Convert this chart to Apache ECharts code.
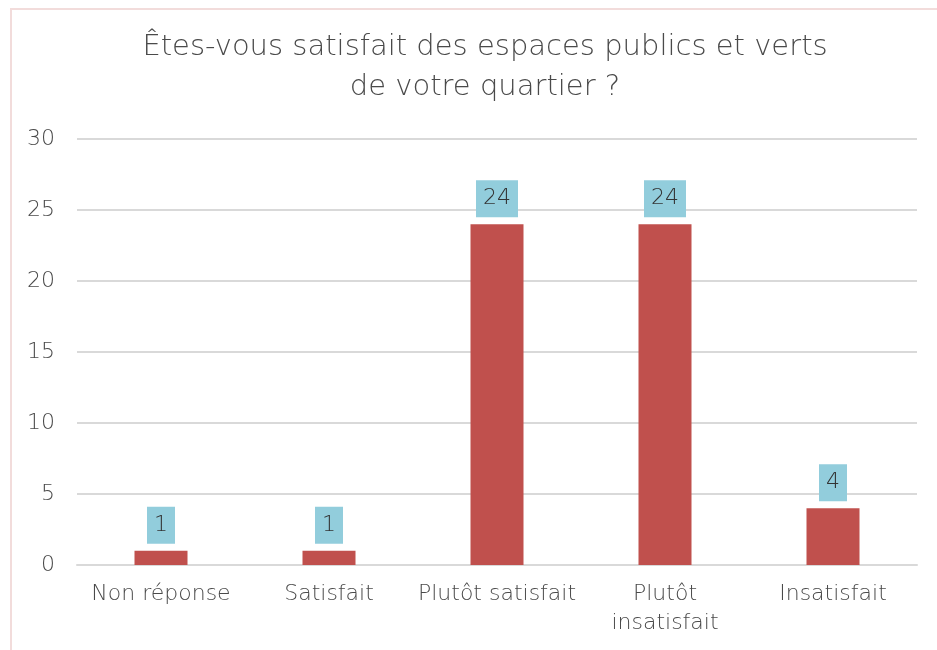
<!DOCTYPE html>
<html>
<head>
<meta charset="utf-8">
<script src="https://cdn.jsdelivr.net/npm/echarts@6/dist/echarts.min.js"></script>
<style>
  html, body { margin: 0; padding: 0; background: #fff; }
  #chart { width: 937px; height: 650px; }
</style>
</head>
<body>
<div id="chart"></div>
<script>
// data
var categories = ["Non réponse", "Satisfait", "Plutôt satisfait", "Plutôt\ninsatisfait", "Insatisfait"];
var values = [1, 1, 24, 24, 4];
var yTicks = [0, 5, 10, 15, 20, 25, 30];

var fontFamily = "'DejaVu Sans', sans-serif";
var textColor = "#4a4a4a";

var chart = echarts.init(document.getElementById("chart"));

chart.setOption({
    animation: false,
    title: {
        text: "Êtes-vous satisfait des espaces publics et verts\nde votre quartier ?",
        left: 480,
        top: 22,
        textAlign: "center",
        textStyle: {
            fontFamily: fontFamily,
            fontWeight: 300,
            fontSize: 29,
            lineHeight: 40,
            color: textColor
        }
    },
    graphic: [{
        type: "rect",
        silent: true,
        shape: { x: 11, y: 9, width: 960, height: 680 },
        style: { fill: "none", stroke: "#F2DCDB", lineWidth: 2 }
    }],
    grid: {
        left: 77,
        right: 20,
        top: 139,
        bottom: 85,
        containLabel: false
    },
    xAxis: {
        type: "category",
        data: categories,
        axisTick: { show: false },
        axisLine: { lineStyle: { color: "#d9d9d9", width: 2 } },
        axisLabel: {
            fontFamily: fontFamily,
            fontWeight: 300,
            fontSize: 22,
            lineHeight: 29,
            color: textColor,
            margin: 15,
            interval: 0
        }
    },
    yAxis: {
        type: "value",
        min: yTicks[0],
        max: yTicks[yTicks.length - 1],
        interval: 5,
        axisLine: { show: false },
        axisTick: { show: false },
        splitLine: { lineStyle: { color: "#d9d9d9", width: 2 } },
        axisLabel: {
            fontFamily: fontFamily,
            fontWeight: 300,
            fontSize: 22,
            color: textColor,
            margin: 22
        }
    },
    series: [{
        type: "bar",
        data: values,
        barWidth: 53,
        itemStyle: { color: "#C0504D" },
        label: {
            show: true,
            position: "top",
            distance: 7,
            fontFamily: fontFamily,
            fontWeight: 300,
            fontSize: 22,
            lineHeight: 23,
            color: "#333333",
            backgroundColor: "#92CDDC",
            padding: [7, 7, 7, 7]
        }
    }]
});
</script>
</body>
</html>
